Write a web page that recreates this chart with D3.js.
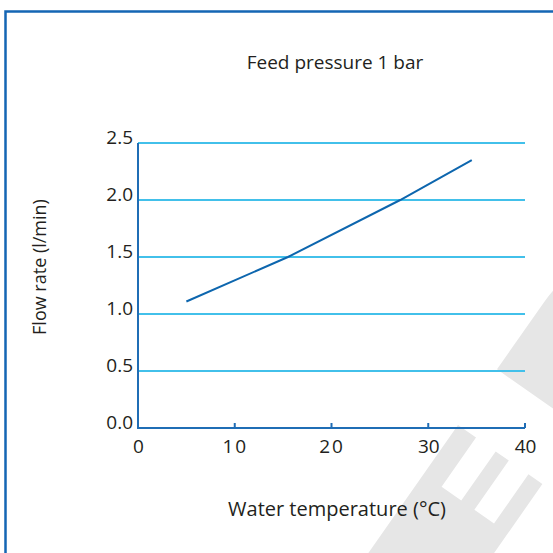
<!DOCTYPE html>
<meta charset="utf-8">
<script src="https://d3js.org/d3.v7.min.js"></script>
<style>
  body { margin: 0; background: #fff; }
  text { font-family: "Open Sans", sans-serif; fill: #231f20; }
</style>
<div id="my_dataviz"></div>
<script>

// data
var temps = [5, 15.5, 27.1, 34.5];          // water temperature (°C)
var flows = [1.11, 1.50, 2.00, 2.35];       // flow rate (l/min)
var xTicks = [0, 10, 20, 30, 40];
var yTicks = [0.0, 0.5, 1.0, 1.5, 2.0, 2.5];

var W = 553, H = 553;
var margin = {top: 143, right: 28, bottom: 125, left: 138},
    width = W - margin.left - margin.right,
    height = H - margin.top - margin.bottom;

var svg = d3.select("#my_dataviz")
  .append("svg")
    .attr("width", W)
    .attr("height", H);

// grey watermark letters behind the chart
var wm = svg.append("g")
    .attr("transform", "translate(458,425) rotate(35)")
    .attr("fill", "#e6e6e6");
wm.append("path")
    .attr("d", "M0,0 L22,0 L22,60 L46,60 L46,0 L62,0 L62,60 L86,60 L86,0 L103,0 L103,220 L0,220 Z");
wm.append("path")
    .attr("d", "M0,-68 L110,-68 L110,-200 L30,-200 Q0,-200 0,-150 Z");

// frame
svg.append("path")
    .attr("d", "M5.5," + H + " L5.5,11.5 L" + W + ",11.5")
    .attr("fill", "none")
    .attr("stroke", "#1466b4")
    .attr("stroke-width", 2.5);

var g = svg.append("g")
    .attr("transform", "translate(" + margin.left + "," + margin.top + ")");

// scales
var x = d3.scaleLinear()
  .domain([0, 40])
  .range([0, width]);

var y = d3.scaleLinear()
  .domain([0, 2.5])
  .range([height, 0]);

// horizontal grid lines
g.selectAll("line.grid")
  .data(yTicks.filter(function(d) { return d > 0; }))
  .enter()
  .append("line")
    .attr("class", "grid")
    .attr("x1", 0)
    .attr("x2", width)
    .attr("y1", function(d) { return y(d); })
    .attr("y2", function(d) { return y(d); })
    .attr("stroke", "#42c0ea")
    .attr("stroke-width", 2);

// X axis
var xAxis = g.append("g")
  .attr("transform", "translate(0," + height + ")")
  .call(d3.axisBottom(x)
    .tickValues(xTicks)
    .tickSize(0)
    .tickPadding(12)
    .tickFormat(d3.format("d")));
xAxis.select(".domain").remove();
xAxis.selectAll("text")
  .attr("font-size", "19px")
  .attr("font-family", null)
  .attr("letter-spacing", function(d) { return (d > 0 && d < 30) ? "2px" : null; })
  .attr("fill", "#231f20");

// small upward ticks on the x axis
g.selectAll("line.xtick")
  .data(xTicks.filter(function(d) { return d > 0; }))
  .enter()
  .append("line")
    .attr("class", "xtick")
    .attr("x1", function(d) { return x(d); })
    .attr("x2", function(d) { return x(d); })
    .attr("y1", height)
    .attr("y2", height - 5)
    .attr("stroke", "#1f6db5")
    .attr("stroke-width", 2);

// Y axis labels
var yAxis = g.append("g")
  .call(d3.axisLeft(y)
    .tickValues(yTicks)
    .tickSize(0)
    .tickPadding(5)
    .tickFormat(d3.format(".1f")));
yAxis.select(".domain").remove();
yAxis.selectAll("text")
  .attr("dy", 0)
  .attr("font-size", "19px")
  .attr("font-family", null)
  .attr("fill", "#231f20");

// axis lines
g.append("path")
  .attr("d", "M0," + y(2.5) + " L0," + height + " L" + width + "," + height)
  .attr("fill", "none")
  .attr("stroke", "#1f6db5")
  .attr("stroke-width", 2);

// the line
var pts = temps.map(function(t, i) { return [t, flows[i]]; });
g.append("path")
  .datum(pts)
  .attr("fill", "none")
  .attr("stroke", "#0d66ae")
  .attr("stroke-width", 2)
  .attr("d", d3.line()
    .x(function(d) { return x(d[0]); })
    .y(function(d) { return y(d[1]); }));

// titles
svg.append("text")
  .attr("x", 335)
  .attr("y", 69)
  .attr("text-anchor", "middle")
  .style("font-size", "19px")
  .text("Feed pressure 1 bar");

svg.append("text")
  .attr("x", 337)
  .attr("y", 516)
  .attr("text-anchor", "middle")
  .style("font-size", "20px")
  .text("Water temperature (°C)");

svg.append("text")
  .attr("transform", "translate(46,267) rotate(-90)")
  .attr("text-anchor", "middle")
  .style("font-size", "18px")
  .text("Flow rate (l/min)");

</script>
